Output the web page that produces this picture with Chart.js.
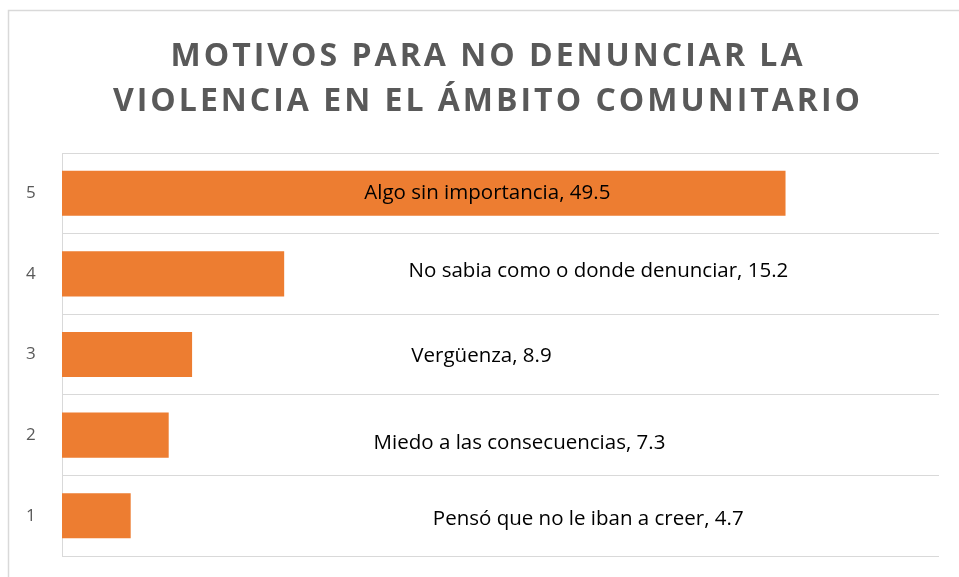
<!DOCTYPE html>
<html>
<head>
<meta charset="utf-8">
<script src="https://cdn.jsdelivr.net/npm/chart.js@4.4.0/dist/chart.umd.min.js"></script>
<style>
  html, body { margin: 0; padding: 0; background: #fff; overflow: hidden; }
  canvas { display: block; }
</style>
</head>
<body>
<canvas id="barChart" width="959" height="577"></canvas>
<script>
// datos del grafico
var titulo = ["MOTIVOS PARA NO DENUNCIAR LA", "VIOLENCIA EN EL ÁMBITO COMUNITARIO"];
var categorias = ["5", "4", "3", "2", "1"];
var motivos = [
  "Algo sin importancia",
  "No sabia como o donde denunciar",
  "Vergüenza",
  "Miedo a las consecuencias",
  "Pensó que no le iban a creer"
];
var porcentajes = [49.5, 15.2, 8.9, 7.3, 4.7];

// las etiquetas estan movidas a mano en el original (centro en unidades del eje x, dy en px)
var posEtiquetas = [
  { x: 29.1, dy: 0 },
  { x: 36.7, dy: -3 },
  { x: 28.7, dy: 1.5 },
  { x: 31.3, dy: 8.5 },
  { x: 36.0, dy: 3 }
];

const GRIS = "#d9d9d9";

const marcoYTitulo = {
  id: "marcoYTitulo",
  beforeDraw(chart) {
    const ctx = chart.ctx;
    ctx.save();
    ctx.strokeStyle = GRIS;
    ctx.lineWidth = 1.5;
    ctx.beginPath();
    ctx.moveTo(8.5, chart.height);
    ctx.lineTo(8.5, 10.5);
    ctx.lineTo(chart.width, 10.5);
    ctx.stroke();

    ctx.fillStyle = "#595959";
    ctx.font = "bold 32px 'Open Sans'";
    ctx.letterSpacing = "3px";
    ctx.textAlign = "center";
    ctx.textBaseline = "alphabetic";
    ctx.fillText(titulo[0], 488, 66);
    ctx.fillText(titulo[1], 488, 111);
    ctx.restore();
  }
};

const etiquetas = {
  id: "etiquetas",
  afterDatasetsDraw(chart) {
    const ctx = chart.ctx;
    const meta = chart.getDatasetMeta(0);
    const xs = chart.scales.x;
    ctx.save();
    ctx.fillStyle = "#000";
    ctx.font = "20.5px 'Open Sans'";
    ctx.textAlign = "center";
    ctx.textBaseline = "middle";
    meta.data.forEach(function(bar, i) {
      const txt = motivos[i] + ", " + porcentajes[i];
      ctx.fillText(txt, xs.getPixelForValue(posEtiquetas[i].x), bar.y + posEtiquetas[i].dy);
    });
    ctx.restore();
  }
};

const CHART = document.getElementById("barChart");

let barChart = new Chart(CHART, {
  type: "bar",
  data: {
    labels: categorias,
    datasets: [
      {
        label: "Motivos",
        data: porcentajes,
        backgroundColor: "#ED7D31",
        borderWidth: 0,
        barPercentage: 1.0,
        categoryPercentage: 0.56
      }
    ]
  },
  options: {
    indexAxis: "y",
    responsive: false,
    animation: false,
    layout: { padding: { top: 153, left: 26, right: 20, bottom: 21 } },
    plugins: {
      legend: { display: false },
      title: { display: false },
      tooltip: { enabled: false }
    },
    scales: {
      x: {
        display: false,
        min: 0,
        max: 60
      },
      y: {
        afterFit: function(scale) { scale.width = 36; },
        grid: { color: GRIS, lineWidth: 1, drawTicks: false, offset: true },
        border: { display: true, color: GRIS, width: 1 },
        ticks: {
          color: "#595959",
          padding: 0,
          crossAlign: "far",
          font: { family: "'Open Sans'", size: 17 }
        }
      }
    }
  },
  plugins: [marcoYTitulo, etiquetas]
});
</script>
</body>
</html>
